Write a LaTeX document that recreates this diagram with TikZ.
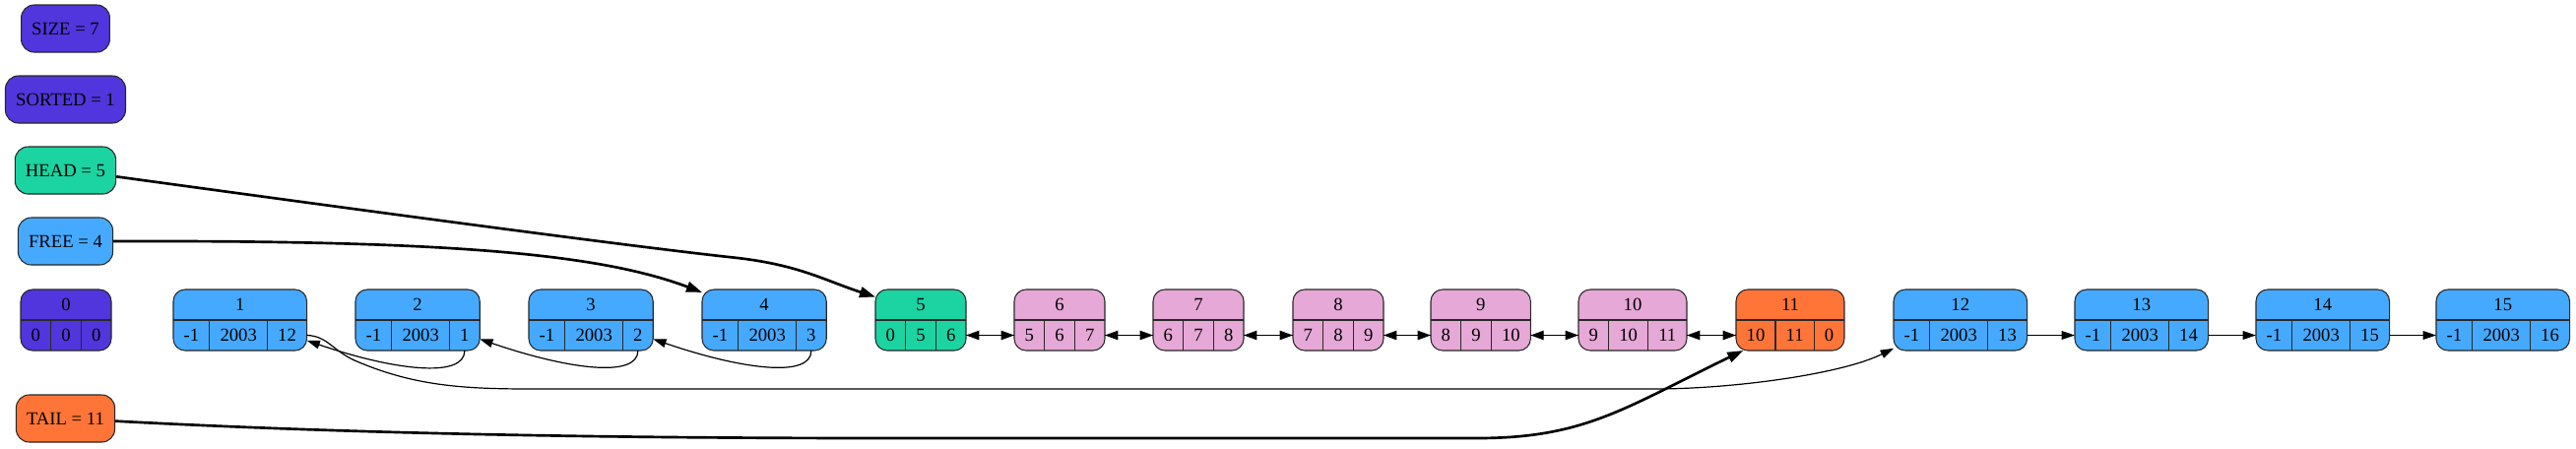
\documentclass[tikz,border=0pt]{standalone}
\usepackage{fontspec}
\setmainfont{Liberation Serif}
\usetikzlibrary{arrows.meta,calc,fit,backgrounds}

\definecolor{sortc}{RGB}{80,54,220}
\definecolor{headc}{RGB}{28,211,162}
\definecolor{freec}{RGB}{69,170,255}
\definecolor{usedc}{RGB}{230,168,215}
\definecolor{tailc}{RGB}{255,117,56}
\definecolor{edgec}{RGB}{40,40,40}

\tikzset{
  lbl/.style={draw=edgec, line width=0.8pt, rounded corners=10pt, inner xsep=8pt, minimum height=36pt, font=\fontsize{14pt}{16pt}\selectfont},
  reccell/.style={inner xsep=8pt, inner ysep=0pt, outer sep=0pt, minimum height=23.25pt, font=\fontsize{14pt}{16pt}\selectfont},
  recbox/.style={draw=edgec, line width=0.8pt, rounded corners=9pt, inner sep=0pt, outer sep=0pt},
  sep/.style={draw=edgec, line width=0.8pt},
  ptr/.style={line width=2pt, -{Triangle[length=12pt,width=8pt]}},
  nextptr/.style={line width=0.9pt, -{Triangle[length=10pt,width=6.5pt]}},
  dlink/.style={line width=1pt, -{Triangle[length=10pt,width=7pt]}},
}

\begin{document}
\begin{tikzpicture}[x=0.75pt,y=-0.75pt]
  \useasboundingbox (0,0) rectangle (2616,455);
  % globals
  \node[lbl, fill=sortc] (size) at (66.5,29) {SIZE = 7};
  \node[lbl, fill=sortc] (sorted) at (66.5,101) {SORTED = 1};
  \node[lbl, fill=headc] (head) at (66.5,173) {HEAD = 5};
  \node[lbl, fill=freec] (free) at (66.5,245) {FREE = 4};
  \node[lbl, fill=tailc] (tail) at (66.5,425) {TAIL = 11};
  % slots: index/left/prev/key/next/colour
  \foreach \idx/\xl/\va/\vb/\vc/\col in {
    0/21/0/0/0/sortc, 1/176/-1/2003/12/freec, 2/361/-1/2003/1/freec,
    3/537/-1/2003/2/freec, 4/713/-1/2003/3/freec, 5/889/0/5/6/headc,
    6/1030/5/6/7/usedc, 7/1171/6/7/8/usedc, 8/1313/7/8/9/usedc,
    9/1453/8/9/10/usedc, 10/1603/9/10/11/usedc, 11/1763/10/11/0/tailc,
    12/1923/-1/2003/13/freec, 13/2107/-1/2003/14/freec,
    14/2291/-1/2003/15/freec, 15/2474/-1/2003/16/freec}
  {
    \node[reccell, anchor=west] (n\idx-a) at (\xl,340.5) {\va};
    \node[reccell, anchor=west] (n\idx-b) at (n\idx-a.east) {\vb};
    \node[reccell, anchor=west] (n\idx-c) at (n\idx-b.east) {\vc};
    \node[reccell, anchor=south] (n\idx-h) at ($(n\idx-a.north west)!.5!(n\idx-c.north east)$) {\idx};
    \begin{scope}[on background layer]
      \node[recbox, fill=\col, fit=(n\idx-a)(n\idx-c)(n\idx-h)] (n\idx) {};
    \end{scope}
    \draw[sep] (n\idx-a.north west) -- (n\idx-c.north east);
    \draw[sep] (n\idx-a.north east) -- (n\idx-a.south east);
    \draw[sep] (n\idx-b.north east) -- (n\idx-b.south east);
  }
  % head, free and tail pointers
  \draw[ptr] (head.-7) .. controls (400,218) and (640,250) .. (740,261)
    .. controls (810,268) and (835,284) .. (n5.153);
  \draw[ptr] (free.east) .. controls (450,244) and (607,257) .. (n4.156);
  \draw[ptr] (tail.-3) .. controls (350,440) and (600,445) .. (900,445) -- (1500,445)
    .. controls (1610,445) and (1650,414) .. (n11.213);
  % free list
  \foreach \s/\t in {2/1, 3/2, 4/3}
    \draw[nextptr] (n\s-c.south) .. controls +(0,29) and +(87,30) .. (n\t.-17);
  \draw[nextptr] (n1-c.east) .. controls (332,341) and (338,356) .. (360,366)
    .. controls (420,392) and (470,395) .. (540,395) -- (1680,395)
    .. controls (1760,395) and (1870,380) .. (n12.203);
  \foreach \s/\t in {12/13, 13/14, 14/15}
    \draw[nextptr] (n\s-c.east) -- (n\t-a.west);
  % used list, both ways
  \foreach \s/\t in {5/6, 6/7, 7/8, 8/9, 9/10, 10/11} {
    \draw[dlink] (n\s-c.east) -- (n\t-a.west);
    \draw[dlink] (n\t-a.west) -- (n\s-c.east);
  }
\end{tikzpicture}
\end{document}
